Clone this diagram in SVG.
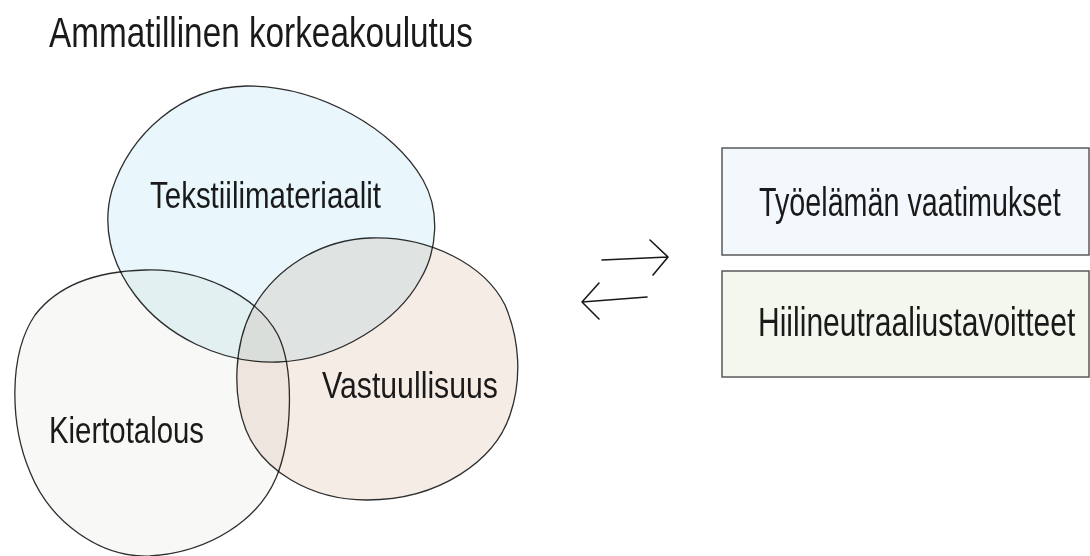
<svg xmlns="http://www.w3.org/2000/svg" width="1090" height="556" viewBox="0 0 1090 556">
<style>
text{font-family:"Liberation Sans Narrow","Liberation Sans",Arial,sans-serif;fill:#1a1a1a}
.blob{stroke:#2e2e2e;stroke-width:1.3;mix-blend-mode:multiply}
.box{stroke:#5a5a5a;stroke-width:1.5}
.arr{fill:none;stroke:#1a1a1a;stroke-width:1.6;stroke-linecap:round;stroke-linejoin:round}
</style>
<rect width="1090" height="556" fill="#ffffff"/>
<text x="49" y="47" font-size="42" textLength="424" lengthAdjust="spacingAndGlyphs">Ammatillinen korkeakoulutus</text>
<g id="kiertotalous">
<path class="blob" fill="#f8f9f6" d="M145,270 C195,268 255,292 278,335 C295,370 292,440 276,478 C258,520 210,552 150,556 C100,558 50,522 30,472 C10,425 8,355 35,315 C62,280 105,271 145,270 Z"/>
<text x="49" y="443" font-size="37" textLength="155" lengthAdjust="spacingAndGlyphs">Kiertotalous</text>
</g>
<g id="tekstiili">
<path class="blob" fill="#e9f6fb" d="M247,86 C320,86 395,130 423,180 C440,210 438,250 420,280 C398,320 340,360 278,362 C220,364 165,335 135,295 C110,262 102,225 112,190 C130,135 180,87 247,86 Z"/>
<text x="150" y="208" font-size="37" textLength="231" lengthAdjust="spacingAndGlyphs">Tekstiilimateriaalit</text>
</g>
<g id="vastuullisuus">
<path class="blob" fill="#f5ece6" d="M370,238 C430,236 485,265 505,305 C520,340 522,380 510,415 C495,460 440,500 367,500 C310,500 262,470 246,430 C232,395 234,345 252,310 C275,268 320,240 370,238 Z"/>
<text x="322" y="398" font-size="37" textLength="176" lengthAdjust="spacingAndGlyphs">Vastuullisuus</text>
</g>
<g id="connectors">
<path class="arr" d="M602,260 L668,257 M650,240 L668,257 L653,275"/>
<path class="arr" d="M647,297 L582,302 M599,283 L582,302 L599,319"/>
</g>
<g id="tyoelama">
<rect class="box" x="722" y="148" width="367" height="107" fill="#f3f8fc"/>
<text transform="translate(759,216) scale(0.72,1)" x="0" y="0" font-size="40" textLength="419" lengthAdjust="spacingAndGlyphs">Työelämän vaatimukset</text>
</g>
<g id="hiilineutraalius">
<rect class="box" x="722" y="271" width="367" height="106" fill="#f3f7ee"/>
<text transform="translate(758,336) scale(0.75,1)" x="0" y="0" font-size="40" textLength="423" lengthAdjust="spacingAndGlyphs">Hiilineutraaliustavoitteet</text>
</g>
</svg>
